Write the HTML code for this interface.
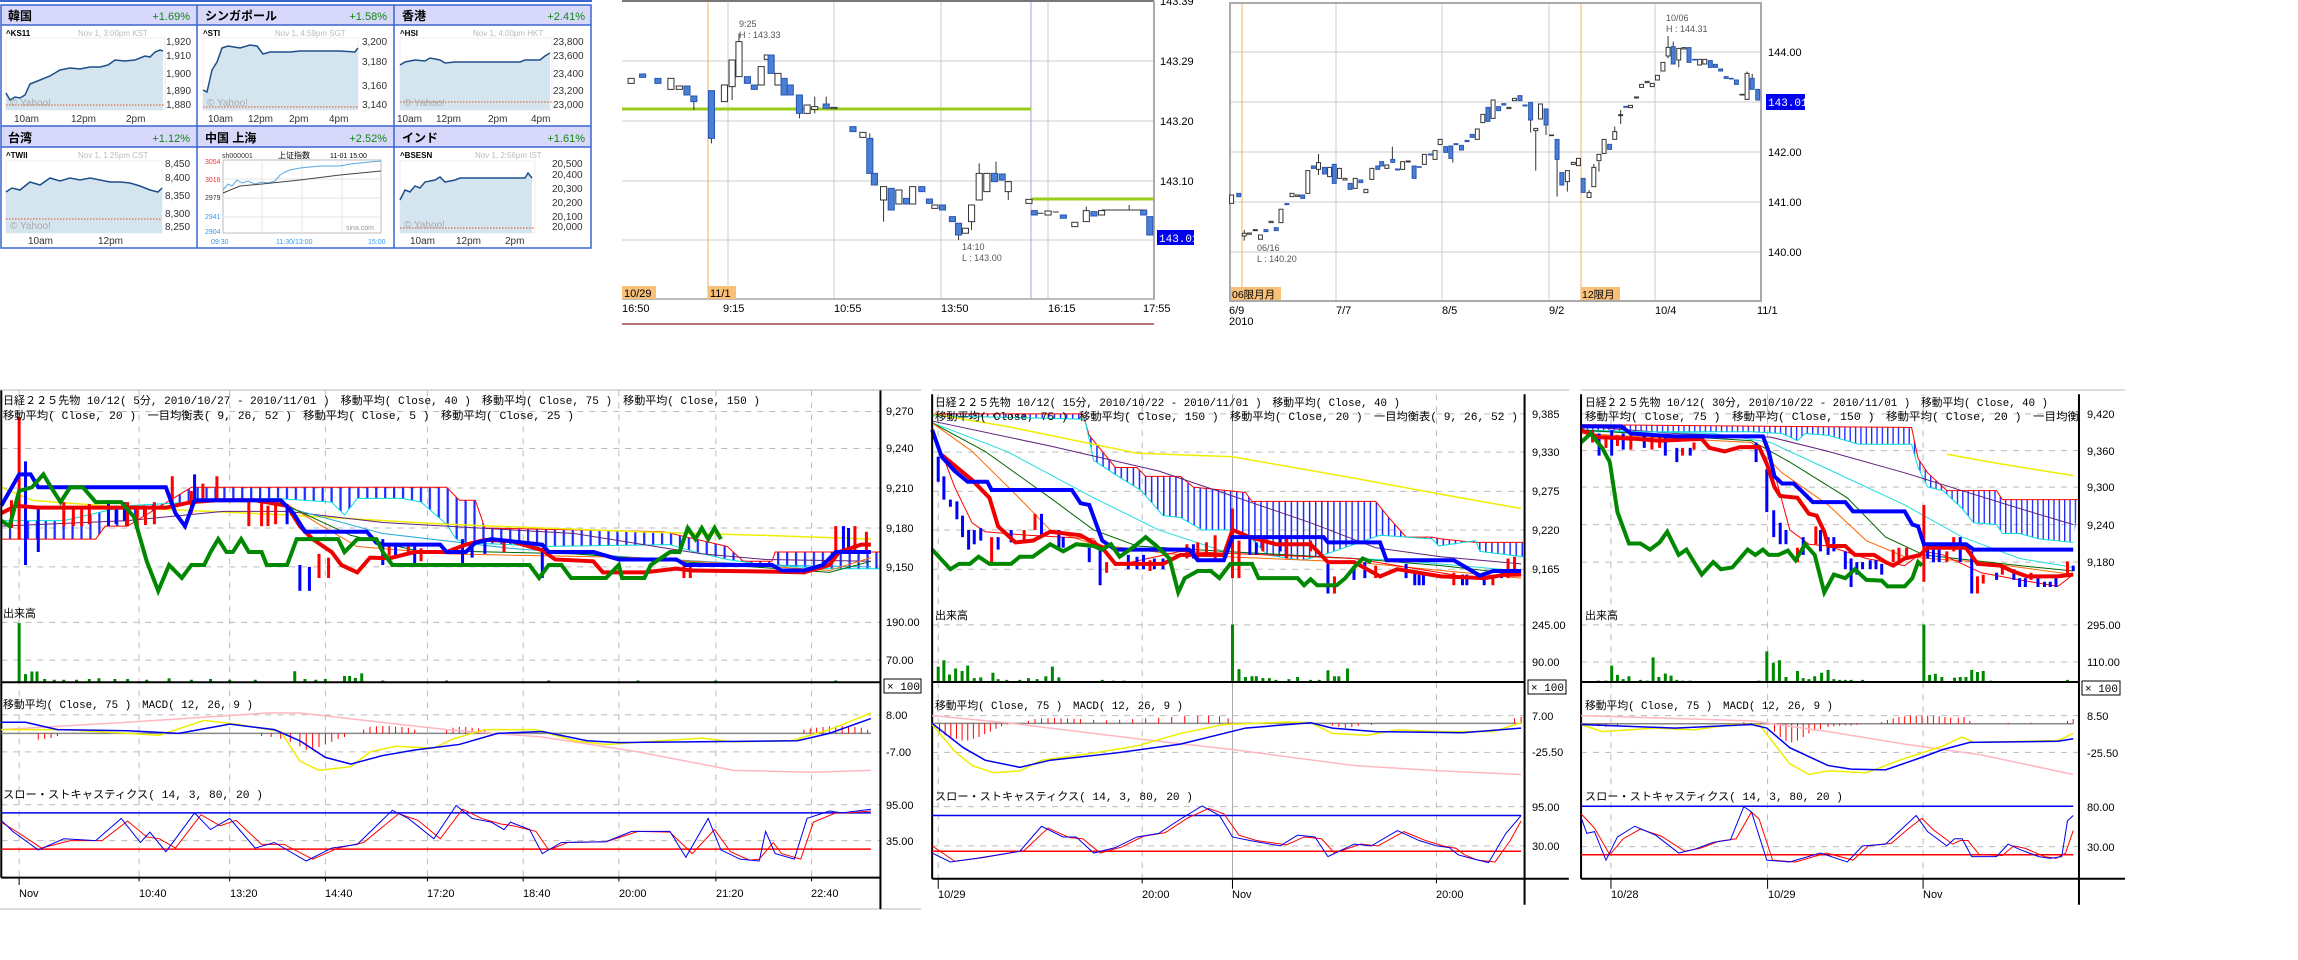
<!DOCTYPE html>
<html><head><meta charset="utf-8"><style>
html,body{margin:0;padding:0;background:#fff}
svg{display:block}
text{font-family:"Liberation Sans","Noto Sans CJK JP",sans-serif}
.j{font-family:"Liberation Mono","Noto Sans CJK JP",monospace;font-size:11px;fill:#000}
.ax{font-family:"Liberation Mono","Noto Sans CJK JP",monospace;font-size:11px;fill:#000}
.y{font-size:10px;fill:#333}
.g{fill:#aaa;font-size:10px}
.b{fill:#4a7fd6;stroke:#2a55b0}
.w{fill:#fff;stroke:#333}
.ns{vector-effect:non-scaling-stroke}
</style></head><body>
<svg width="2298" height="960" viewBox="0 0 2298 960" xmlns="http://www.w3.org/2000/svg">
<defs>
<pattern id="h" patternUnits="userSpaceOnUse" width="14" height="10"><rect x="0" y="0" width="3.5" height="10" fill="#1a2cff"/></pattern>
</defs>
<rect width="2298" height="960" fill="#fff"/>

<!-- ============ YAHOO GRID ============ -->
<g>
<line x1="0" y1="1" x2="592" y2="1" stroke="#3a66d0" stroke-width="2"/>
<rect x="1" y="5" width="590" height="20" fill="#d8d8fb"/>
<rect x="1" y="126" width="590" height="21" fill="#d8d8fb"/>
<rect x="1" y="5" width="590" height="243" fill="none" stroke="#3a66d0" stroke-width="1.5"/>
<line x1="1" y1="25" x2="591" y2="25" stroke="#3a66d0" stroke-width="1.5"/>
<line x1="1" y1="126" x2="591" y2="126" stroke="#3a66d0" stroke-width="1.5"/>
<line x1="1" y1="147" x2="591" y2="147" stroke="#3a66d0" stroke-width="1.5"/>
<line x1="197" y1="5" x2="197" y2="248" stroke="#3a66d0" stroke-width="1.5"/>
<line x1="394" y1="5" x2="394" y2="248" stroke="#3a66d0" stroke-width="1.5"/>
<g font-size="12" font-weight="bold">
<text x="8" y="20">韓国</text><text x="205" y="20">シンガポール</text><text x="402" y="20">香港</text>
<text x="8" y="142">台湾</text><text x="205" y="142">中国 上海</text><text x="402" y="142">インド</text>
</g>
<g font-size="11" fill="#118811" text-anchor="end">
<text x="190" y="20">+1.69%</text><text x="387" y="20">+1.58%</text><text x="585" y="20">+2.41%</text>
<text x="190" y="142">+1.12%</text><text x="387" y="142">+2.52%</text><text x="585" y="142">+1.61%</text>
</g>
<g font-size="8" font-weight="bold"><text x="6" y="36">^KS11</text><text x="203" y="36">^STI</text><text x="400" y="36">^HSI</text><text x="6" y="158">^TWII</text><text x="400" y="158">^BSESN</text></g>
<g font-size="8" fill="#bbb"><text x="78" y="36">Nov 1, 3:00pm KST</text><text x="275" y="36">Nov 1, 4:59pm SGT</text><text x="473" y="36">Nov 1, 4:00pm HKT</text><text x="78" y="158">Nov 1, 1:25pm CST</text><text x="475" y="158">Nov 1, 2:56pm IST</text></g>
<g stroke="#eee" stroke-width="1"><rect x="6" y="38" width="159" height="72" fill="#fff"/><rect x="203" y="38" width="155" height="72" fill="#fff"/><rect x="400" y="38" width="152" height="72" fill="#fff"/><rect x="6" y="161" width="156" height="72" fill="#fff"/><rect x="400" y="161" width="135" height="72" fill="#fff"/></g>
<polygon fill="#d5e5f0" points="6,110 6,93 10,100 15,97 20,98 25,95 30,84 40,80 50,76 60,70 70,68 80,69 90,67 100,67 108,65 115,60 125,61 135,60 145,56 150,57 155,52 160,50 163,51 163,110"/>
<polyline fill="none" stroke="#1e4f8a" stroke-width="1.5" points="6,93 10,100 15,97 20,98 25,95 30,84 40,80 50,76 60,70 70,68 80,69 90,67 100,67 108,65 115,60 125,61 135,60 145,56 150,57 155,52 160,50 163,51"/>
<polygon fill="#d5e5f0" points="203,110 203,90 207,92 212,70 217,62 222,48 228,46 240,48 250,45 257,46 263,54 270,52 290,52 300,51 320,51 340,51 355,52 358,48 358,110"/>
<polyline fill="none" stroke="#1e4f8a" stroke-width="1.5" points="203,90 207,92 212,70 217,62 222,48 228,46 240,48 250,45 257,46 263,54 270,52 290,52 300,51 320,51 340,51 355,52 358,48"/>
<polygon fill="#d5e5f0" points="400,110 400,65 405,62 415,60 425,61 430,58 440,60 445,63 455,62 470,62 500,62 520,62 525,60 540,60 545,56 550,53 550,110"/>
<polyline fill="none" stroke="#1e4f8a" stroke-width="1.5" points="400,65 405,62 415,60 425,61 430,58 440,60 445,63 455,62 470,62 500,62 520,62 525,60 540,60 545,56 550,53"/>
<polygon fill="#d5e5f0" points="6,233 6,192 12,188 20,190 30,182 40,185 50,178 60,181 70,178 80,180 90,178 100,180 110,182 120,182 130,183 140,186 150,190 158,192 162,188 162,233"/>
<polyline fill="none" stroke="#1e4f8a" stroke-width="1.5" points="6,192 12,188 20,190 30,182 40,185 50,178 60,181 70,178 80,180 90,178 100,180 110,182 120,182 130,183 140,186 150,190 158,192 162,188"/>
<polygon fill="#d5e5f0" points="400,233 400,200 405,190 410,192 415,186 420,188 425,182 435,180 440,177 445,182 455,180 460,178 470,178 525,178 528,173 532,178 532,233"/>
<polyline fill="none" stroke="#1e4f8a" stroke-width="1.5" points="400,200 405,190 410,192 415,186 420,188 425,182 435,180 440,177 445,182 455,180 460,178 470,178 525,178 528,173 532,178"/>
<g stroke="#e05020" stroke-width="1" stroke-dasharray="1.5,1.5"><line x1="6" y1="105" x2="165" y2="105"/><line x1="203" y1="107" x2="358" y2="107"/><line x1="400" y1="102" x2="552" y2="102"/><line x1="6" y1="219" x2="162" y2="219"/><line x1="400" y1="228" x2="535" y2="228"/></g>
<g class="g" font-size="8"><text x="10" y="106">© Yahoo!</text><text x="207" y="106">© Yahoo!</text><text x="404" y="106">© Yahoo!</text><text x="10" y="229">© Yahoo!</text><text x="404" y="228">© Yahoo!</text></g>
<g class="y" font-size="8.5">
<text x="166" y="45">1,920</text><text x="166" y="59">1,910</text><text x="166" y="77">1,900</text><text x="166" y="94">1,890</text><text x="166" y="108">1,880</text>
<text x="362" y="45">3,200</text><text x="362" y="65">3,180</text><text x="362" y="89">3,160</text><text x="362" y="108">3,140</text>
<text x="553" y="45">23,800</text><text x="553" y="59">23,600</text><text x="553" y="77">23,400</text><text x="553" y="94">23,200</text><text x="553" y="108">23,000</text>
<text x="165" y="167">8,450</text><text x="165" y="181">8,400</text><text x="165" y="199">8,350</text><text x="165" y="217">8,300</text><text x="165" y="230">8,250</text>
<text x="552" y="167">20,500</text><text x="552" y="178">20,400</text><text x="552" y="192">20,300</text><text x="552" y="206">20,200</text><text x="552" y="220">20,100</text><text x="552" y="230">20,000</text>
</g>
<g class="y" font-size="9">
<text x="14" y="122">10am</text><text x="71" y="122">12pm</text><text x="126" y="122">2pm</text>
<text x="208" y="122">10am</text><text x="248" y="122">12pm</text><text x="289" y="122">2pm</text><text x="329" y="122">4pm</text>
<text x="397" y="122">10am</text><text x="436" y="122">12pm</text><text x="488" y="122">2pm</text><text x="531" y="122">4pm</text>
<text x="28" y="244">10am</text><text x="98" y="244">12pm</text>
<text x="410" y="244">10am</text><text x="456" y="244">12pm</text><text x="505" y="244">2pm</text>
</g>
<rect x="223" y="160" width="158" height="73" fill="#fff" stroke="#bbb"/>
<g stroke="#e6e6e6"><line x1="262" y1="160" x2="262" y2="233"/><line x1="302" y1="160" x2="302" y2="233"/><line x1="342" y1="160" x2="342" y2="233"/><line x1="223" y1="179" x2="381" y2="179"/><line x1="223" y1="198" x2="381" y2="198"/><line x1="223" y1="217" x2="381" y2="217"/></g>
<polyline fill="none" stroke="#5aa8e0" stroke-width="1" points="223,190 228,184 232,186 237,180 242,183 248,181 255,184 262,182 268,183 275,181 280,175 285,172 290,170 300,168 310,167 320,166 340,166 350,164 360,163 370,162 381,161"/>
<polyline fill="none" stroke="#444" stroke-width="1" points="223,193 240,186 262,184 300,180 340,175 381,171"/>
<g font-size="7" font-family="Liberation Mono,monospace"><text x="222" y="158" fill="#333">sh000001</text><text x="278" y="158" fill="#000" font-family="Noto Sans CJK SC,sans-serif" font-size="8">上证指数</text><text x="330" y="158" fill="#000">11-01 15:00</text>
<text x="205" y="164" fill="#e33">3054</text><text x="205" y="182" fill="#e33">3016</text><text x="205" y="200" fill="#333">2979</text><text x="205" y="219" fill="#39e">2941</text><text x="205" y="234" fill="#39e">2904</text>
<text x="211" y="244" fill="#39e">09:30</text><text x="276" y="244" fill="#39e">11:30/13:00</text><text x="368" y="244" fill="#39e">15:00</text><text x="346" y="230" fill="#999">sina.com</text></g>
</g>

<!-- ============ TOP MIDDLE CHART ============ -->
<g>
<line x1="622" y1="1" x2="1154" y2="1" stroke="#777" stroke-width="2"/>
<g stroke="#ccc" stroke-width="1"><line x1="622" y1="61" x2="1154" y2="61"/><line x1="622" y1="121" x2="1154" y2="121"/><line x1="622" y1="181" x2="1154" y2="181"/><line x1="622" y1="240" x2="1154" y2="240"/>
<line x1="728" y1="2" x2="728" y2="299"/><line x1="834" y1="2" x2="834" y2="299"/><line x1="941" y1="2" x2="941" y2="299"/><line x1="1048" y1="2" x2="1048" y2="299"/></g>
<line x1="1154" y1="1" x2="1154" y2="300" stroke="#aaa" stroke-width="2"/>
<line x1="622" y1="299" x2="1154" y2="299" stroke="#bbb" stroke-width="2"/>
<line x1="708" y1="2" x2="708" y2="299" stroke="#f5b060"/>
<line x1="1031" y1="2" x2="1031" y2="299" stroke="#b49cf0"/>
<line x1="622" y1="109" x2="1031" y2="109" stroke="#9acd1a" stroke-width="3"/>
<line x1="1031" y1="199" x2="1154" y2="199" stroke="#9acd1a" stroke-width="3"/>
<g transform="scale(0.765,0.3333)">
<path class="ns" stroke="#333" stroke-width="1" d="M930 272V430 M966 100V130 M957 230V300 M1155 600V665 M1280 490V520 M1253 705V720 M1137 400V415 M1270 665V690 M1318 575V600 M1045 340V355 M907 305V330 M1080 290V312 M1420 620V632 M1476 615V630 M1302 485V520 M1065 290V340 M1005 165V178"/>
<g stroke-width="1">
<rect class="w ns" x="821" y="235" width="8" height="15"/><rect class="b ns" x="836" y="222" width="8" height="10"/><rect class="b ns" x="856" y="235" width="8" height="15"/><rect class="w ns" x="873" y="235" width="8" height="33"/><rect class="w ns" x="884" y="258" width="8" height="10"/><rect class="b ns" x="894" y="258" width="8" height="27"/><rect class="b ns" x="903" y="288" width="8" height="17"/><rect class="b ns" x="926" y="272" width="8" height="143"/><rect class="w ns" x="943" y="255" width="8" height="50"/><rect class="w ns" x="953" y="180" width="8" height="80"/><rect class="w ns" x="962" y="125" width="8" height="105"/><rect class="b ns" x="973" y="230" width="8" height="20"/><rect class="b ns" x="982" y="255" width="8" height="13"/><rect class="w ns" x="991" y="200" width="8" height="55"/><rect class="w ns" x="999" y="165" width="6" height="13"/><rect class="b ns" x="1004" y="165" width="8" height="55"/><rect class="w ns" x="1013" y="220" width="8" height="35"/><rect class="b ns" x="1021" y="235" width="8" height="50"/><rect class="b ns" x="1029" y="255" width="8" height="30"/><rect class="b ns" x="1041" y="285" width="8" height="55"/><rect class="w ns" x="1051" y="315" width="8" height="25"/><rect class="w ns" x="1061" y="320" width="8" height="8"/><rect class="b ns" x="1076" y="312" width="8" height="13"/><rect class="w ns" x="1086" y="322" width="8" height="4"/>
<rect class="b ns" x="1111" y="380" width="8" height="15"/><rect class="w ns" x="1124" y="397" width="8" height="15"/><rect class="b ns" x="1133" y="415" width="8" height="105"/><rect class="b ns" x="1139" y="520" width="8" height="35"/><rect class="w ns" x="1151" y="560" width="8" height="40"/><rect class="b ns" x="1161" y="565" width="8" height="65"/><rect class="w ns" x="1171" y="570" width="8" height="42"/><rect class="b ns" x="1181" y="595" width="8" height="17"/><rect class="w ns" x="1189" y="560" width="8" height="52"/><rect class="b ns" x="1201" y="560" width="8" height="15"/><rect class="b ns" x="1211" y="597" width="8" height="13"/><rect class="w ns" x="1218" y="615" width="8" height="10"/><rect class="b ns" x="1228" y="615" width="8" height="15"/><rect class="b ns" x="1241" y="650" width="8" height="15"/><rect class="b ns" x="1249" y="670" width="8" height="35"/><rect class="w ns" x="1258" y="685" width="8" height="15"/><rect class="w ns" x="1266" y="615" width="8" height="50"/><rect class="w ns" x="1276" y="520" width="8" height="80"/><rect class="w ns" x="1286" y="520" width="8" height="55"/><rect class="b ns" x="1296" y="520" width="8" height="25"/><rect class="b ns" x="1306" y="522" width="8" height="18"/><rect class="w ns" x="1314" y="545" width="8" height="30"/><rect class="w ns" x="1341" y="598" width="8" height="12"/>
<rect class="b ns" x="1348" y="632" width="8" height="13"/><rect class="w ns" x="1366" y="633" width="8" height="12"/><rect class="b ns" x="1386" y="645" width="8" height="10"/><rect class="w ns" x="1401" y="667" width="8" height="13"/><rect class="w ns" x="1416" y="632" width="8" height="33"/><rect class="b ns" x="1426" y="635" width="8" height="13"/><rect class="w ns" x="1436" y="632" width="8" height="13"/><rect class="b ns" x="1491" y="630" width="8" height="15"/><rect class="b ns" x="1499" y="650" width="8" height="55"/>
</g>
<path class="ns" d="M1440 630H1495 M1356 640H1364 M1376 636H1384" stroke="#333" stroke-width="1"/>
</g>
<rect x="622" y="286" width="34" height="13" fill="#f9c07a"/><rect x="708" y="286" width="28" height="13" fill="#f9c07a"/>
<g class="ax" font-size="10"><text x="624" y="297">10/29</text><text x="710" y="297">11/1</text></g>
<g class="ax" font-size="10.5"><text x="622" y="312">16:50</text><text x="723" y="312">9:15</text><text x="834" y="312">10:55</text><text x="941" y="312">13:50</text><text x="1048" y="312">16:15</text><text x="1143" y="312">17:55</text></g>
<g class="ax" font-size="10.5"><text x="1160" y="5">143.39</text><text x="1160" y="65">143.29</text><text x="1160" y="125">143.20</text><text x="1160" y="185">143.10</text></g>
<rect x="1157" y="230" width="37" height="15" fill="#0000ee"/><text x="1159" y="242" class="ax" style="fill:#fff" font-size="10.5">143.01</text>
<g font-size="9" fill="#555" font-family="Liberation Mono,monospace"><text x="739" y="27">9:25</text><text x="739" y="38">H : 143.33</text><text x="962" y="250">14:10</text><text x="962" y="261">L : 143.00</text></g>
<line x1="622" y1="324" x2="1154" y2="324" stroke="#a04848" stroke-width="1.5"/>
</g>

<!-- ============ TOP RIGHT CHART ============ -->
<g>
<g stroke="#ccc"><line x1="1230" y1="52" x2="1761" y2="52"/><line x1="1230" y1="102" x2="1761" y2="102"/><line x1="1230" y1="152" x2="1761" y2="152"/><line x1="1230" y1="202" x2="1761" y2="202"/><line x1="1230" y1="252" x2="1761" y2="252"/>
<line x1="1336" y1="3" x2="1336" y2="301"/><line x1="1442" y1="3" x2="1442" y2="301"/><line x1="1549" y1="3" x2="1549" y2="301"/><line x1="1655" y1="3" x2="1655" y2="301"/></g>
<line x1="1242" y1="3" x2="1242" y2="301" stroke="#f5b060"/><line x1="1581" y1="3" x2="1581" y2="301" stroke="#f5b060"/>
<rect x="1230" y="3" width="531" height="298" fill="none" stroke="#aaa" stroke-width="2"/>
<g transform="translate(1200,0) scale(0.395,0.3333)">
<path class="ns" stroke="#333" stroke-width="1" d="M850 385V512 M1185 108V175 M904 478V590 M930 545V575 M1198 125V140 M1212 180V202 M112 690V722 M985 570V592 M1010 485V515 M1050 380V395 M837 360V397 M876 375V405 M640 475V488 M487 440V478 M300 462V525 M1385 215V300 M1398 222V235 M1065 330V372 M997 492V502"/>
<g>
<rect class="w ns" x="75" y="585" width="10" height="25"/><rect class="b ns" x="93" y="580" width="10" height="10"/><rect class="w ns" x="107" y="700" width="10" height="8"/><rect class="w ns" x="120" y="699" width="10" height="4"/><rect class="w ns" x="135" y="689" width="10" height="3"/><rect class="w ns" x="148" y="705" width="10" height="13"/><rect class="b ns" x="162" y="689" width="10" height="6"/><rect class="w ns" x="175" y="664" width="10" height="4"/><rect class="b ns" x="188" y="683" width="10" height="9"/><rect class="w ns" x="200" y="628" width="10" height="40"/><rect class="b ns" x="215" y="611" width="10" height="3"/><rect class="w ns" x="228" y="580" width="10" height="10"/><rect class="w ns" x="242" y="585" width="10" height="4"/><rect class="b ns" x="255" y="585" width="10" height="10"/><rect class="w ns" x="268" y="512" width="10" height="68"/><rect class="b ns" x="282" y="498" width="10" height="7"/><rect class="w ns" x="295" y="488" width="10" height="20"/><rect class="b ns" x="310" y="502" width="10" height="20"/><rect class="w ns" x="323" y="502" width="10" height="28"/><rect class="b ns" x="335" y="493" width="10" height="57"/><rect class="w ns" x="348" y="505" width="10" height="30"/><rect class="w ns" x="362" y="535" width="10" height="5"/><rect class="b ns" x="375" y="550" width="10" height="18"/><rect class="w ns" x="388" y="535" width="10" height="30"/><rect class="b ns" x="402" y="540" width="10" height="8"/><rect class="w ns" x="415" y="568" width="10" height="10"/><rect class="w ns" x="430" y="505" width="10" height="33"/><rect class="b ns" x="445" y="498" width="10" height="10"/><rect class="b ns" x="455" y="485" width="10" height="13"/><rect class="w ns" x="468" y="495" width="10" height="10"/><rect class="b ns" x="483" y="478" width="10" height="9"/><rect class="b ns" x="495" y="507" width="10" height="3"/><rect class="w ns" x="508" y="485" width="10" height="23"/><rect class="w ns" x="522" y="483" width="10" height="3"/><rect class="b ns" x="537" y="498" width="10" height="37"/><rect class="b ns" x="550" y="500" width="10" height="2"/><rect class="w ns" x="563" y="463" width="10" height="30"/><rect class="b ns" x="578" y="462" width="10" height="3"/><rect class="w ns" x="590" y="452" width="10" height="26"/><rect class="w ns" x="603" y="418" width="10" height="16"/><rect class="b ns" x="617" y="440" width="10" height="17"/><rect class="b ns" x="630" y="438" width="10" height="37"/><rect class="b ns" x="643" y="431" width="10" height="3"/><rect class="b ns" x="657" y="436" width="10" height="14"/><rect class="b ns" x="671" y="421" width="10" height="4"/><rect class="b ns" x="684" y="403" width="10" height="9"/><rect class="w ns" x="697" y="387" width="10" height="31"/><rect class="w ns" x="711" y="343" width="10" height="25"/><rect class="b ns" x="724" y="322" width="10" height="42"/><rect class="w ns" x="737" y="300" width="10" height="55"/><rect class="b ns" x="751" y="320" width="10" height="12"/><rect class="b ns" x="764" y="311" width="10" height="4"/><rect class="w ns" x="777" y="322" width="10" height="4"/><rect class="w ns" x="791" y="295" width="10" height="7"/><rect class="b ns" x="805" y="287" width="10" height="15"/><rect class="b ns" x="818" y="315" width="10" height="3"/><rect class="b ns" x="832" y="307" width="10" height="53"/><rect class="w ns" x="845" y="385" width="10" height="7"/><rect class="w ns" x="857" y="312" width="10" height="45"/><rect class="b ns" x="871" y="327" width="10" height="48"/><rect class="w ns" x="885" y="405" width="10" height="2"/><rect class="b ns" x="899" y="418" width="10" height="60"/><rect class="b ns" x="911" y="518" width="10" height="37"/><rect class="w ns" x="925" y="512" width="10" height="33"/><rect class="w ns" x="940" y="487" width="10" height="6"/><rect class="w ns" x="953" y="475" width="10" height="22"/><rect class="b ns" x="965" y="535" width="10" height="42"/><rect class="w ns" x="980" y="578" width="10" height="14"/><rect class="w ns" x="992" y="502" width="10" height="58"/><rect class="w ns" x="1005" y="463" width="10" height="19"/><rect class="w ns" x="1018" y="418" width="10" height="42"/><rect class="b ns" x="1032" y="433" width="10" height="15"/><rect class="w ns" x="1045" y="395" width="10" height="23"/><rect class="w ns" x="1060" y="344" width="10" height="3"/><rect class="b ns" x="1073" y="319" width="10" height="3"/><rect class="w ns" x="1085" y="316" width="10" height="7"/><rect class="w ns" x="1100" y="291" width="10" height="3"/><rect class="w ns" x="1113" y="253" width="10" height="9"/><rect class="w ns" x="1127" y="244" width="10" height="4"/><rect class="w ns" x="1140" y="250" width="10" height="10"/><rect class="w ns" x="1153" y="226" width="10" height="14"/><rect class="w ns" x="1167" y="187" width="10" height="26"/><rect class="w ns" x="1180" y="142" width="10" height="26"/><rect class="b ns" x="1193" y="140" width="10" height="52"/><rect class="w ns" x="1207" y="145" width="10" height="35"/><rect class="w ns" x="1220" y="143" width="10" height="4"/><rect class="b ns" x="1233" y="143" width="10" height="44"/><rect class="b ns" x="1247" y="178" width="10" height="2"/><rect class="w ns" x="1260" y="178" width="10" height="17"/><rect class="w ns" x="1273" y="178" width="10" height="14"/><rect class="b ns" x="1287" y="182" width="10" height="20"/><rect class="b ns" x="1300" y="193" width="10" height="9"/><rect class="b ns" x="1313" y="207" width="10" height="6"/><rect class="b ns" x="1327" y="230" width="10" height="5"/><rect class="b ns" x="1340" y="235" width="10" height="2"/><rect class="b ns" x="1353" y="240" width="10" height="13"/><rect class="w ns" x="1367" y="283" width="10" height="2"/><rect class="w ns" x="1380" y="220" width="10" height="78"/><rect class="b ns" x="1393" y="235" width="10" height="33"/><rect class="b ns" x="1407" y="268" width="10" height="32"/>
</g></g>
<rect x="1231" y="287" width="50" height="13" fill="#f9c07a"/><rect x="1581" y="287" width="39" height="13" fill="#f9c07a"/>
<g font-size="10.5" font-family="Liberation Mono,Noto Sans CJK JP,monospace"><text x="1232" y="298">06限月月</text><text x="1582" y="298">12限月</text></g>
<g class="ax" font-size="10.5"><text x="1768" y="56">144.00</text><text x="1768" y="156">142.00</text><text x="1768" y="206">141.00</text><text x="1768" y="256">140.00</text>
<text x="1229" y="314">6/9</text><text x="1229" y="325">2010</text><text x="1336" y="314">7/7</text><text x="1442" y="314">8/5</text><text x="1549" y="314">9/2</text><text x="1655" y="314">10/4</text><text x="1757" y="314">11/1</text></g>
<rect x="1766" y="94" width="39" height="16" fill="#0000ee"/><text x="1768" y="106" class="ax" style="fill:#fff" font-size="10.5">143.01</text>
<g font-size="9" fill="#555" font-family="Liberation Mono,monospace"><text x="1666" y="21">10/06</text><text x="1666" y="32">H : 144.31</text><text x="1257" y="251">06/16</text><text x="1257" y="262">L : 140.20</text></g>
</g>

<!-- ============ BOTTOM CHART 1 ============ -->
<g>
<line x1="0" y1="390" x2="921" y2="390" stroke="#ddd" stroke-width="2"/>
<line x1="0" y1="909" x2="921" y2="909" stroke="#ddd" stroke-width="2"/>
<g transform="translate(0,380) scale(0.638,0.37)">
<path class="ns" stroke="#bbb" stroke-dasharray="6,6" fill="none" d="M2 85H1380 M2 185H1380 M2 292H1380 M2 400H1380 M2 505H1380 M2 655H1380 M2 757H1380 M2 905H1380 M2 1005H1380 M2 1148H1380 M2 1245H1380 M30 28V1345 M218 28V1345 M360 28V1345 M510 28V1345 M670 28V1345 M820 28V1345 M970 28V1345 M1122 28V1345 M1272 28V1345"/>
<polygon fill="url(#h)" points="2,430 150,430 165,395 200,395 300,290 700,290 720,325 745,325 760,400 1040,410 1140,450 1165,490 1210,490 1215,465 1380,465 1380,510 1300,510 1200,500 1140,485 1090,465 1050,445 850,450 800,445 730,440 715,430 700,390 660,330 630,320 560,320 540,365 520,330 430,320 300,330 200,340 100,380 2,380"/>
<g fill="none">
<polyline class="ns" stroke="#f00" stroke-width="1" points="2,430 150,430 165,395 200,395 300,290 700,290 720,325 745,325 760,400 1040,410 1140,450 1165,490 1210,490 1215,465 1380,465"/>
<polyline class="ns" stroke="#0dd" stroke-width="1" points="2,380 100,380 200,340 300,330 430,320 520,330 540,365 560,320 630,320 660,330 700,390 715,430 730,440 800,445 850,450 1050,445 1090,465 1140,485 1200,500 1300,510 1380,510"/>
<polyline class="ns" stroke="#ee0" stroke-width="1.5" points="2,290 50,325 200,345 450,365 700,390 1000,410 1200,420 1365,430"/>
<polyline class="ns" stroke="#602080" stroke-width="1" points="2,395 200,380 350,355 450,355 600,385 900,415 1100,470 1200,485 1365,490"/>
<polyline class="ns" stroke="#2ad" stroke-width="1" points="450,345 600,415 800,455 1000,480 1200,500 1365,505"/>
<polyline class="ns" stroke="#f60" stroke-width="1" points="440,325 500,390 560,450 700,470 1000,480 1300,515 1365,480"/>
<polyline class="ns" stroke="#060" stroke-width="1" points="450,340 550,420 650,460 900,470 1300,520 1365,490"/>
</g>
<path class="ns" stroke="#f00" stroke-width="3" d="M30 100V430 M18 325V400 M100 330V395 M115 345V395 M128 345V395 M140 335V390 M200 330V395 M215 340V395 M228 345V392 M242 330V390 M270 260V330 M300 300V360 M318 280V330 M340 260V330 M390 330V395 M410 325V395 M420 340V395 M432 330V390 M500 470V535 M515 480V535 M610 445V475 M640 440V470 M660 455V490 M790 430V465 M1072 500V535 M1082 505V535 M1310 395V465 M1340 395V460 M1358 410V465"/>
<path class="ns" stroke="#00f" stroke-width="3" d="M40 220V500 M60 350V465 M170 325V395 M182 340V390 M195 330V380 M305 255V330 M450 340V390 M470 500V570 M485 505V570 M600 430V500 M620 440V480 M650 450V500 M725 430V500 M740 445V480 M760 430V470 M850 455V535 M1322 395V465 M1330 400V465"/>
<polyline class="ns" fill="none" stroke="#e00" stroke-width="4" points="2,360 25,340 60,345 100,345 260,345 300,330 340,325 400,325 450,340 470,395 490,430 520,465 535,500 560,520 580,480 610,482 650,465 700,465 730,445 760,432 800,435 850,460 870,485 930,490 945,520 1010,520 1060,510 1085,515 1210,518 1260,520 1300,500 1315,465 1350,445 1365,445"/>
<polyline class="ns" fill="none" stroke="#00f" stroke-width="4" points="2,340 30,255 48,255 60,290 260,290 275,360 290,395 305,325 440,325 460,360 478,410 575,410 590,440 600,445 690,445 700,465 730,465 745,440 770,430 850,445 860,465 930,465 970,485 1060,485 1075,500 1210,500 1225,515 1260,515 1290,500 1310,465 1365,465"/>
<polyline class="ns" fill="none" stroke="#080" stroke-width="4" points="2,380 15,395 30,300 50,290 68,255 80,290 95,330 110,290 130,290 150,330 190,330 210,370 230,490 248,570 265,500 285,535 300,500 320,500 330,465 342,430 355,465 365,465 378,430 390,465 410,465 418,500 450,500 465,430 530,430 540,465 560,430 590,430 600,465 615,500 830,500 845,535 860,500 880,500 895,535 950,535 970,500 975,535 1010,535 1020,500 1050,465 1065,465 1078,400 1090,430 1100,400 1110,430 1120,400 1130,430"/>
<path class="ns" stroke="#080" stroke-width="3" d="M30 657V815 M40 795V815 M50 788V815 M58 788V815 M70 808V815 M85 810V815 M100 810V815 M120 810V815 M140 808V815 M155 806V815 M180 808V815 M200 808V815 M230 810V815 M265 806V815 M300 810V815 M330 808V815 M360 810V815 M400 810V815 M462 787V815 M478 808V815 M495 810V815 M510 808V815 M540 800V815 M548 800V815 M557 805V815 M567 793V815 M600 812V815 M700 812V815 M860 812V815 M1000 812V815 M1122 812V815 M1310 812V815"/>
<path class="ns" stroke="#000" stroke-width="2" d="M2 28V1345 M2 817H1380 M2 1345H1380 M1380 28V1430"/>
<path class="ns" stroke="#888" stroke-width="1.5" d="M2 955H1365"/>
<path class="ns" stroke="#f00" stroke-width="1" d="M60 955V972 M70 955V970 M80 955V968 M90 955V962 M410 955V962 M425 955V965 M440 955V970 M455 955V978 M470 955V990 M480 955V1000 M490 955V1000 M500 955V992 M510 955V985 M520 955V978 M530 955V970 M540 955V965 M570 955V945 M580 955V938 M590 955V936 M600 955V935 M610 955V935 M620 955V937 M630 955V938 M640 955V940 M650 955V945 M700 955V945 M710 955V940 M720 955V938 M730 955V938 M740 955V940 M750 955V942 M760 955V946 M1260 955V945 M1270 955V942 M1280 955V940 M1290 955V938 M1300 955V936 M1310 955V935 M1320 955V935 M1330 955V936 M1340 955V938 M1350 955V940 M1360 955V945"/>
<polyline class="ns" fill="none" stroke="#ffb6c1" stroke-width="1.5" points="2,945 200,925 420,900 470,900 700,945 850,965 1000,1005 1150,1055 1270,1060 1365,1055"/>
<polyline class="ns" fill="none" stroke="#ee0" stroke-width="1.5" points="2,945 100,945 250,960 320,920 370,930 440,950 470,1030 500,1055 550,1045 580,1005 620,990 680,995 710,970 760,945 840,945 900,975 950,985 1100,968 1150,978 1240,975 1300,945 1365,900"/>
<polyline class="ns" fill="none" stroke="#00e" stroke-width="1.5" points="2,925 40,925 90,945 200,948 280,955 360,930 430,945 470,975 510,1020 550,1038 600,1015 650,1000 720,985 780,955 850,950 920,975 970,980 1250,975 1300,955 1365,915"/>
<path class="ns" stroke="#00e" stroke-width="1.5" d="M2 1170H1365"/><path class="ns" stroke="#f00" stroke-width="1.5" d="M2 1268H1365"/>
<polyline class="ns" fill="none" stroke="#f00" stroke-width="1" points="2,1195 30,1225 65,1265 110,1245 160,1245 200,1192 230,1235 250,1240 275,1265 315,1175 345,1205 370,1190 410,1255 445,1255 490,1295 530,1265 570,1250 625,1172 655,1190 690,1240 725,1160 755,1185 785,1200 805,1205 840,1220 860,1270 890,1250 950,1248 1000,1220 1050,1222 1085,1280 1120,1215 1145,1275 1175,1298 1190,1295 1212,1250 1225,1280 1255,1295 1275,1195 1310,1170 1330,1170 1365,1165"/>
<polyline class="ns" fill="none" stroke="#00e" stroke-width="1" points="2,1190 20,1220 60,1270 100,1240 150,1245 190,1185 220,1250 235,1222 260,1275 305,1170 330,1215 360,1185 400,1265 430,1250 480,1300 520,1265 560,1255 615,1163 640,1185 680,1240 715,1150 740,1185 770,1195 790,1215 800,1195 830,1215 850,1280 880,1250 950,1248 990,1220 1050,1220 1075,1290 1110,1185 1130,1270 1160,1295 1190,1300 1200,1220 1215,1280 1245,1295 1265,1185 1300,1165 1320,1170 1365,1160"/>
<path class="ns" stroke="#000" stroke-width="1" d="M30 1345V1365 M218 1345V1355 M360 1345V1355 M510 1345V1355 M670 1345V1355 M820 1345V1355 M970 1345V1355 M1122 1345V1355 M1272 1345V1355"/>
</g>
<rect x="884" y="679" width="37" height="14" fill="#fff" stroke="#000"/><text x="887" y="690" class="ax" font-size="10">× 100</text>
<text x="3" y="404" class="j" textLength="757" lengthAdjust="spacingAndGlyphs">日経２２５先物 10/12( 5分, 2010/10/27 - 2010/11/01 )　移動平均( Close, 40 )　移動平均( Close, 75 )　移動平均( Close, 150 )</text>
<text x="3" y="419" class="j" textLength="571" lengthAdjust="spacingAndGlyphs">移動平均( Close, 20 )　一目均衡表( 9, 26, 52 )　移動平均( Close, 5 )　移動平均( Close, 25 )</text>
<text x="3" y="617" class="j">出来高</text>
<text x="3" y="708" class="j" textLength="250" lengthAdjust="spacingAndGlyphs">移動平均( Close, 75 )　MACD( 12, 26, 9 )</text>
<text x="3" y="798" class="j" textLength="260" lengthAdjust="spacingAndGlyphs">スロー・ストキャスティクス( 14, 3, 80, 20 )</text>
<g class="ax"><text x="886" y="415">9,270</text><text x="886" y="452">9,240</text><text x="886" y="492">9,210</text><text x="886" y="532">9,180</text><text x="886" y="571">9,150</text><text x="886" y="626">190.00</text><text x="886" y="664">70.00</text><text x="886" y="719">8.00</text><text x="886" y="756">-7.00</text><text x="886" y="809">95.00</text><text x="886" y="845">35.00</text>
<text x="19" y="897">Nov</text><text x="139" y="897">10:40</text><text x="230" y="897">13:20</text><text x="325" y="897">14:40</text><text x="427" y="897">17:20</text><text x="523" y="897">18:40</text><text x="619" y="897">20:00</text><text x="716" y="897">21:20</text><text x="811" y="897">22:40</text></g>
</g>

<!-- ============ BOTTOM CHART 2 ============ -->
<g>
<line x1="932" y1="390" x2="1569" y2="390" stroke="#ddd" stroke-width="2"/>
<g transform="translate(920,380) scale(0.434,0.357)">
<path class="ns" stroke="#bbb" stroke-dasharray="6,6" fill="none" d="M28 95H1393 M28 202H1393 M28 312H1393 M28 420H1393 M28 530H1393 M28 686H1393 M28 790H1393 M28 940H1393 M28 1043H1393 M28 1195H1393 M28 1305H1393 M42 40V1397 M512 40V1397 M1190 40V1397"/>
<path class="ns" stroke="#aaa" stroke-width="1" d="M720 40V1397"/>
<polygon fill="url(#h)" points="28,95 375,95 390,155 450,245 500,245 520,270 600,270 630,300 750,315 765,340 1050,340 1080,385 1120,440 1180,440 1200,445 1280,455 1390,455 1390,495 1290,480 1280,450 1195,465 1180,445 1060,435 930,490 880,505 800,490 760,440 720,420 650,420 600,385 560,380 510,310 450,265 400,225 380,110 28,100"/>
<g fill="none">
<polyline class="ns" stroke="#f00" stroke-width="1" points="28,95 375,95 390,155 450,245 500,245 520,270 600,270 630,300 750,315 765,340 1050,340 1080,385 1120,440 1180,440 1200,445 1280,455 1390,455"/>
<polyline class="ns" stroke="#0dd" stroke-width="1" points="28,100 380,110 400,225 450,265 510,310 560,380 600,385 650,420 720,420 760,440 800,490 880,505 930,490 1060,435 1180,445 1195,465 1280,450 1290,480 1390,495"/>
<polyline class="ns" stroke="#ee0" stroke-width="1.5" points="28,95 200,130 500,205 720,215 1000,275 1200,320 1385,360"/>
<polyline class="ns" stroke="#602080" stroke-width="1" points="28,115 300,185 550,255 720,325 900,400 1050,470 1200,495 1385,515"/>
<polyline class="ns" stroke="#2dd" stroke-width="1" points="28,120 200,200 400,330 550,420 700,480 900,495 1100,505 1385,535"/>
<polyline class="ns" stroke="#060" stroke-width="1" points="28,120 150,200 300,330 400,420 500,465 700,480 1000,500 1200,520 1385,545"/>
<polyline class="ns" stroke="#f60" stroke-width="1" points="28,120 120,200 220,320 300,420 400,460 600,490 1000,510 1385,555"/>
<polyline class="ns" stroke="#f00" stroke-width="1" points="30,140 80,300 120,400 150,425 250,435 400,445 450,520 600,480 1000,500 1300,560 1385,540"/>
</g>
<path class="ns" stroke="#00f" stroke-width="3" d="M42 215V285 M55 270V335 M70 335V355 M85 340V390 M98 380V440 M112 420V475 M125 420V460 M140 415V450 M180 440V475 M210 420V455 M280 375V440 M320 420V475 M330 440V470 M390 470V510 M415 470V575 M480 490V530 M500 495V530 M515 490V530 M540 500V530 M560 500V530 M630 460V500 M760 440V490 M775 455V490 M830 435V480 M940 515V598 M1000 525V560 M1025 510V555 M1120 515V555 M1140 540V575 M1150 545V575 M1160 545V575 M1250 545V575 M1260 545V575 M1300 545V575 M1340 530V555"/>
<path class="ns" stroke="#f00" stroke-width="3" d="M165 440V520 M240 420V455 M265 375V420 M430 510V540 M530 505V535 M615 460V500 M640 455V500 M660 455V495 M680 435V500 M720 360V555 M735 450V555 M790 455V480 M845 440V500 M900 450V480 M955 550V598 M1050 520V555 M1230 540V575 M1320 545V575 M1355 500V555 M1370 495V530"/>
<polyline class="ns" fill="none" stroke="#e00" stroke-width="4" points="50,210 120,280 160,330 180,410 220,455 260,450 300,425 370,435 420,470 450,515 560,515 600,490 700,490 720,420 760,440 820,460 850,460 900,460 940,510 1000,510 1060,550 1100,530 1200,550 1300,555 1350,545 1385,545"/>
<polyline class="ns" fill="none" stroke="#00f" stroke-width="4" points="28,140 50,215 80,255 110,285 155,285 165,308 350,308 370,345 390,350 420,450 450,475 620,475 640,505 700,505 720,440 930,440 940,455 1060,455 1075,505 1230,505 1290,548 1320,535 1385,535"/>
<polyline class="ns" fill="none" stroke="#080" stroke-width="4" points="28,475 70,530 90,515 115,515 135,495 160,515 210,515 230,495 260,495 300,460 330,480 360,460 400,465 420,475 440,460 460,495 495,465 520,440 545,465 575,500 595,595 610,555 640,535 670,535 690,555 715,515 765,515 780,555 870,555 885,575 900,558 915,575 960,575 980,555 1000,525 1020,500 1040,510"/>
<path class="ns" stroke="#080" stroke-width="3" d="M42 803V846 M55 785V846 M68 825V846 M82 808V846 M97 815V846 M110 800V846 M125 835V846 M140 833V846 M168 820V846 M180 838V846 M200 840V846 M230 840V846 M250 835V846 M270 838V846 M290 830V846 M305 803V846 M320 833V846 M420 840V846 M445 842V846 M470 842V846 M650 843V846 M690 843V846 M720 685V846 M735 810V846 M750 832V846 M765 830V846 M775 830V846 M790 835V846 M805 835V846 M820 840V846 M850 838V846 M870 832V846 M900 840V846 M920 840V846 M940 813V846 M955 830V846 M965 830V846 M985 808V846 M1060 843V846 M1080 843V846 M1160 843V846 M1260 843V846 M1340 843V846 M1370 843V846"/>
<path class="ns" stroke="#000" stroke-width="2" d="M28 40V1397 M28 846H1393 M28 1397H1495 M1393 40V1470"/>
<path class="ns" stroke="#888" stroke-width="1.5" d="M28 962H1385"/>
<path class="ns" stroke="#f00" stroke-width="1" d="M45 962V985 M58 962V995 M71 962V1000 M84 962V1005 M97 962V1010 M110 962V1010 M123 962V1005 M136 962V1000 M149 962V992 M162 962V985 M175 962V977 M188 962V970 M201 962V965 M250 962V955 M265 962V950 M280 962V948 M295 962V947 M310 962V947 M325 962V948 M340 962V948 M355 962V949 M370 962V950 M400 962V952 M430 962V953 M460 962V952 M490 962V950 M520 962V948 M550 962V946 M580 962V944 M610 962V942 M640 962V941 M665 962V940 M690 962V942 M710 962V948 M950 962V968 M965 962V972 M980 962V975 M995 962V972 M1010 962V968 M1040 962V966 M1370 962V948 M1385 962V944"/>
<polyline class="ns" fill="none" stroke="#ffb6c1" stroke-width="1.5" points="28,940 200,960 500,1005 720,1035 1000,1080 1200,1095 1385,1105"/>
<polyline class="ns" fill="none" stroke="#ee0" stroke-width="1.5" points="28,965 80,1040 120,1080 170,1100 230,1095 280,1065 400,1045 500,1025 600,990 700,965 850,958 900,960 950,990 1030,995 1100,980 1200,985 1320,985 1385,960"/>
<polyline class="ns" fill="none" stroke="#00e" stroke-width="1.5" points="28,962 100,1030 150,1065 230,1085 300,1065 450,1045 600,1020 700,990 750,975 900,960 950,975 1050,985 1250,988 1385,975"/>
<path class="ns" stroke="#00e" stroke-width="1.5" d="M28 1220H1385"/><path class="ns" stroke="#f00" stroke-width="1.5" d="M28 1320H1385"/>
<polyline class="ns" fill="none" stroke="#f00" stroke-width="1" points="28,1305 80,1348 145,1338 240,1318 295,1255 345,1282 375,1285 415,1325 465,1308 515,1278 565,1268 615,1228 665,1200 700,1215 735,1275 775,1290 845,1302 885,1280 925,1285 955,1325 1015,1300 1055,1305 1115,1265 1165,1290 1205,1305 1235,1312 1255,1330 1285,1345 1325,1350 1360,1290 1385,1235"/>
<polyline class="ns" fill="none" stroke="#00e" stroke-width="1" points="28,1325 70,1350 130,1340 230,1320 280,1250 330,1280 360,1280 400,1325 450,1310 500,1280 550,1270 600,1230 650,1193 690,1220 720,1280 760,1290 830,1305 870,1275 910,1280 940,1335 1000,1300 1040,1305 1100,1262 1150,1290 1190,1305 1220,1310 1240,1330 1270,1340 1310,1352 1350,1270 1385,1220"/>
<path class="ns" stroke="#000" stroke-width="1" d="M42 1397V1425 M512 1397V1410 M720 1397V1425 M1190 1397V1410"/>
</g>
<rect x="1528" y="680" width="38" height="14" fill="#fff" stroke="#000"/><text x="1531" y="691" class="ax" font-size="10">× 100</text>
<text x="935" y="406" class="j" textLength="465" lengthAdjust="spacingAndGlyphs">日経２２５先物 10/12( 15分, 2010/10/22 - 2010/11/01 )　移動平均( Close, 40 )</text>
<text x="935" y="420" class="j" textLength="583" lengthAdjust="spacingAndGlyphs">移動平均( Close, 75 )　移動平均( Close, 150 )　移動平均( Close, 20 )　一目均衡表( 9, 26, 52 )</text>
<text x="935" y="619" class="j">出来高</text>
<text x="935" y="709" class="j" textLength="248" lengthAdjust="spacingAndGlyphs">移動平均( Close, 75 )　MACD( 12, 26, 9 )</text>
<text x="935" y="800" class="j" textLength="258" lengthAdjust="spacingAndGlyphs">スロー・ストキャスティクス( 14, 3, 80, 20 )</text>
<g class="ax"><text x="1532" y="418">9,385</text><text x="1532" y="456">9,330</text><text x="1532" y="495">9,275</text><text x="1532" y="534">9,220</text><text x="1532" y="573">9,165</text><text x="1532" y="629">245.00</text><text x="1532" y="666">90.00</text><text x="1532" y="720">7.00</text><text x="1532" y="756">-25.50</text><text x="1532" y="811">95.00</text><text x="1532" y="850">30.00</text>
<text x="938" y="898">10/29</text><text x="1142" y="898">20:00</text><text x="1232" y="898">Nov</text><text x="1436" y="898">20:00</text></g>
</g>

<!-- ============ BOTTOM CHART 3 ============ -->
<g>
<line x1="1581" y1="390" x2="2125" y2="390" stroke="#ddd" stroke-width="2"/>
<g transform="translate(1560,380) scale(0.383,0.357)">
<path class="ns" stroke="#bbb" stroke-dasharray="6,6" fill="none" d="M55 95H1355 M55 198H1355 M55 300H1355 M55 405H1355 M55 510H1355 M55 686H1355 M55 790H1355 M55 940H1355 M55 1043H1355 M55 1307H1355 M133 40V1397 M542 40V1397 M948 40V1397"/>
<polygon fill="url(#h)" points="55,125 918,133 935,220 960,260 1010,310 1140,310 1155,335 1355,335 1340,455 1250,445 1200,430 1155,430 1140,405 1080,400 1050,360 1000,310 960,300 935,245 918,180 780,180 700,155 640,150 620,170 580,150 500,145 55,145"/>
<g fill="none">
<polyline class="ns" stroke="#f00" stroke-width="1" points="55,125 918,133 935,220 960,260 1010,310 1140,310 1155,335 1355,335"/>
<polyline class="ns" stroke="#0dd" stroke-width="1" points="55,145 500,145 580,150 620,170 640,150 700,155 780,180 918,180 935,245 960,300 1000,310 1050,360 1080,400 1140,405 1155,430 1200,430 1250,445 1340,455"/>
<polyline class="ns" stroke="#ee0" stroke-width="1.5" points="1010,208 1150,235 1340,268"/>
<polyline class="ns" stroke="#602080" stroke-width="1" points="55,130 300,150 550,160 700,200 900,260 1050,310 1200,360 1340,405"/>
<polyline class="ns" stroke="#2dd" stroke-width="1" points="55,140 400,150 550,175 700,250 900,350 1050,440 1200,500 1340,525"/>
<polyline class="ns" stroke="#060" stroke-width="1" points="55,140 500,170 600,230 750,330 850,440 950,490 1200,520 1340,535"/>
<polyline class="ns" stroke="#f60" stroke-width="1" points="55,150 500,175 580,260 700,350 800,450 900,495 1100,510 1340,545"/>
<polyline class="ns" stroke="#f00" stroke-width="1" points="530,170 560,260 600,420 650,460 700,465 800,500 900,520 950,480 1000,490 1100,540 1200,560 1300,578 1340,545"/>
</g>
<path class="ns" stroke="#00f" stroke-width="3" d="M102 150V212 M135 140V212 M165 150V195 M220 155V190 M275 160V212 M305 190V230 M340 190V212 M512 175V230 M540 250V370 M558 365V440 M575 400V460 M590 420V460 M635 440V490 M680 420V480 M700 440V490 M715 440V480 M745 480V530 M760 500V580 M775 510V545 M790 510V530 M810 505V530 M825 505V530 M840 515V545 M960 460V500 M975 470V510 M990 465V510 M1045 440V510 M1075 480V598 M1140 540V560 M1185 530V560 M1200 555V580 M1215 555V580 M1248 555V580 M1265 565V580 M1280 565V580 M1295 555V580 M1340 520V535"/>
<path class="ns" stroke="#f00" stroke-width="3" d="M85 140V175 M120 155V190 M150 155V185 M185 155V195 M240 150V195 M260 150V190 M320 190V212 M350 175V195 M620 470V510 M668 410V460 M870 475V510 M885 470V510 M905 470V500 M950 350V565 M1010 480V510 M1028 440V480 M1090 550V598 M1105 545V570 M1155 525V545 M1230 540V560 M1325 508V550"/>
<polyline class="ns" fill="none" stroke="#e00" stroke-width="4" points="55,140 100,160 200,165 260,170 370,165 390,190 430,200 470,188 520,188 540,235 560,300 575,325 620,330 650,375 670,380 690,425 700,465 745,465 770,490 820,490 850,510 870,520 900,500 940,490 960,470 1060,470 1090,515 1150,520 1180,535 1220,550 1300,550 1340,545"/>
<polyline class="ns" fill="none" stroke="#00f" stroke-width="4" points="55,130 160,130 185,150 300,158 530,158 545,200 560,270 580,290 610,290 630,310 660,342 745,342 765,368 900,368 920,405 935,410 950,460 1060,460 1080,475 1340,475"/>
<polyline class="ns" fill="none" stroke="#080" stroke-width="4" points="55,175 80,150 110,190 130,230 150,370 180,458 210,458 235,475 260,455 280,425 310,490 330,475 370,545 400,510 420,530 450,525 490,475 510,490 530,475 545,490 570,490 595,478 615,505 640,460 665,490 690,595 715,545 745,555 770,530 800,560 840,562 855,578 900,578 920,555 935,510 945,520"/>
<path class="ns" stroke="#080" stroke-width="3" d="M100 842V846 M120 842V846 M135 800V846 M150 826V846 M165 838V846 M180 830V846 M210 840V846 M228 842V846 M243 777V846 M258 832V846 M275 822V846 M290 828V846 M305 840V846 M320 842V846 M340 842V846 M400 843V846 M500 843V846 M520 842V846 M540 760V846 M557 792V846 M573 785V846 M590 832V846 M620 815V846 M635 835V846 M650 838V846 M665 830V846 M683 820V846 M700 812V846 M715 838V846 M730 840V846 M745 840V846 M760 840V846 M790 840V846 M820 843V846 M880 843V846 M920 843V846 M950 685V846 M965 826V846 M980 823V846 M997 832V846 M1030 834V846 M1045 832V846 M1060 832V846 M1075 812V846 M1090 818V846 M1105 815V846 M1125 842V846 M1150 843V846 M1180 843V846 M1230 843V846 M1280 843V846 M1325 840V846"/>
<path class="ns" stroke="#000" stroke-width="2" d="M55 40V1397 M55 846H1355 M55 1397H1475 M1355 40V1470"/>
<path class="ns" stroke="#888" stroke-width="1.5" d="M55 963H1340"/>
<path class="ns" stroke="#f00" stroke-width="1" d="M100 963V970 M120 963V972 M150 963V968 M480 963V958 M500 963V960 M560 963V985 M575 963V1000 M590 963V1012 M605 963V1015 M620 963V1010 M635 963V1000 M650 963V990 M665 963V983 M680 963V978 M700 963V972 M715 963V970 M730 963V968 M745 963V967 M760 963V968 M775 963V966 M840 963V958 M855 963V952 M870 963V948 M885 963V944 M900 963V942 M915 963V940 M930 963V940 M945 963V940 M960 963V940 M975 963V941 M990 963V942 M1005 963V944 M1020 963V946 M1040 963V946 M1055 963V944 M1070 963V955 M1170 963V960 M1230 963V960 M1325 963V955 M1340 963V950"/>
<polyline class="ns" fill="none" stroke="#ffb6c1" stroke-width="1.5" points="55,940 500,955 700,985 900,1020 1100,1050 1340,1105"/>
<polyline class="ns" fill="none" stroke="#ee0" stroke-width="1.5" points="55,965 110,985 250,975 350,980 450,965 520,965 560,1020 600,1075 650,1105 700,1095 800,1100 900,1060 1000,1025 1050,1000 1080,1015 1300,1010 1340,990"/>
<polyline class="ns" fill="none" stroke="#00e" stroke-width="1.5" points="55,965 300,975 500,965 540,975 600,1030 700,1080 760,1090 850,1092 950,1055 1000,1035 1070,1015 1300,1012 1340,1005"/>
<path class="ns" stroke="#00e" stroke-width="1.5" d="M55 1194H1340"/><path class="ns" stroke="#f00" stroke-width="1.5" d="M55 1330H1340"/>
<polyline class="ns" fill="none" stroke="#f00" stroke-width="1" points="55,1215 90,1255 130,1330 165,1285 210,1258 265,1278 325,1320 365,1312 415,1292 460,1285 500,1210 520,1230 555,1345 615,1350 695,1325 765,1345 805,1305 865,1298 915,1252 945,1228 975,1260 1025,1300 1045,1290 1065,1290 1095,1330 1155,1332 1185,1305 1215,1312 1265,1335 1295,1340 1320,1325 1340,1262"/>
<polyline class="ns" fill="none" stroke="#00e" stroke-width="1" points="55,1225 70,1270 90,1265 120,1345 150,1280 195,1250 250,1275 310,1325 350,1315 400,1295 445,1288 480,1195 500,1210 540,1345 600,1350 680,1325 750,1350 790,1305 850,1300 900,1250 930,1220 960,1265 1010,1305 1030,1285 1050,1285 1075,1335 1140,1335 1170,1300 1200,1315 1250,1335 1280,1340 1310,1335 1325,1235 1340,1220"/>
<path class="ns" stroke="#000" stroke-width="1" d="M133 1397V1425 M542 1397V1425 M948 1397V1425"/>
</g>
<rect x="2082" y="681" width="38" height="14" fill="#fff" stroke="#000"/><text x="2085" y="692" class="ax" font-size="10">× 100</text>
<text x="1585" y="406" class="j" textLength="463" lengthAdjust="spacingAndGlyphs">日経２２５先物 10/12( 30分, 2010/10/22 - 2010/11/01 )　移動平均( Close, 40 )</text>
<text x="1585" y="420" class="j" textLength="494" lengthAdjust="spacingAndGlyphs">移動平均( Close, 75 )　移動平均( Close, 150 )　移動平均( Close, 20 )　一目均衡</text>
<text x="1585" y="619" class="j">出来高</text>
<text x="1585" y="709" class="j" textLength="248" lengthAdjust="spacingAndGlyphs">移動平均( Close, 75 )　MACD( 12, 26, 9 )</text>
<text x="1585" y="800" class="j" textLength="258" lengthAdjust="spacingAndGlyphs">スロー・ストキャスティクス( 14, 3, 80, 20 )</text>
<g class="ax"><text x="2087" y="418">9,420</text><text x="2087" y="455">9,360</text><text x="2087" y="491">9,300</text><text x="2087" y="529">9,240</text><text x="2087" y="566">9,180</text><text x="2087" y="629">295.00</text><text x="2087" y="666">110.00</text><text x="2087" y="720">8.50</text><text x="2087" y="757">-25.50</text><text x="2087" y="811">80.00</text><text x="2087" y="851">30.00</text>
<text x="1611" y="898">10/28</text><text x="1768" y="898">10/29</text><text x="1923" y="898">Nov</text></g>
</g>
</svg>
</body></html>
